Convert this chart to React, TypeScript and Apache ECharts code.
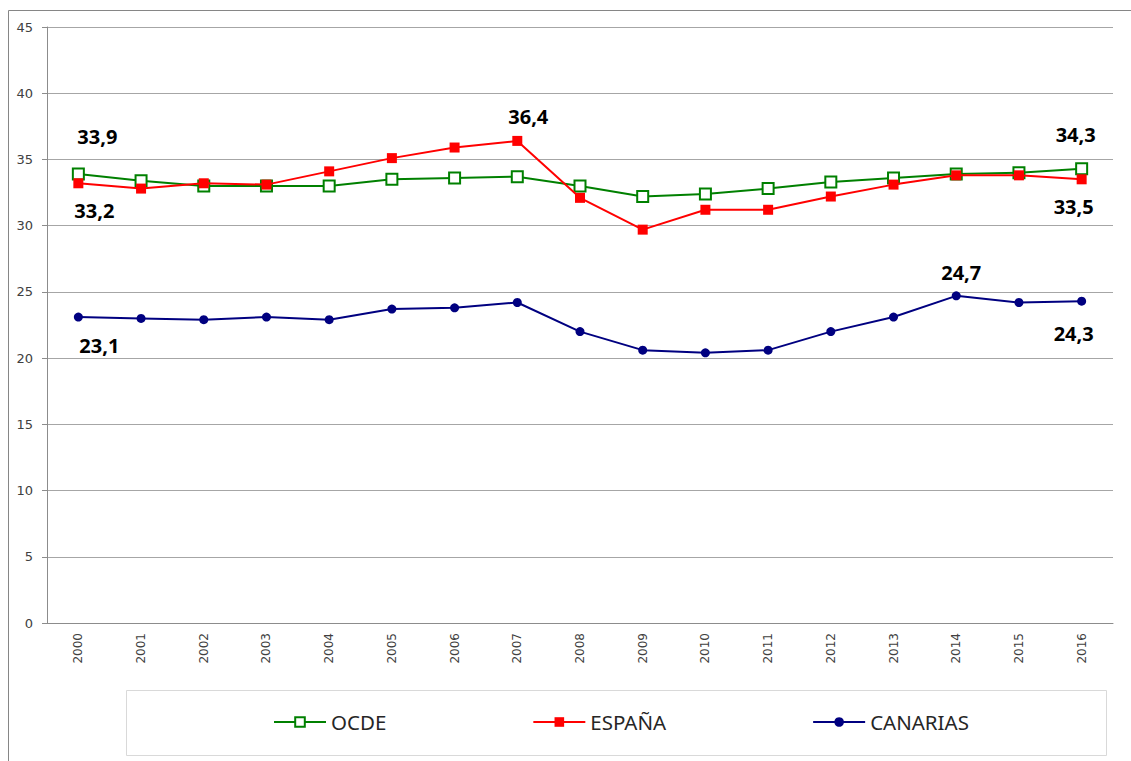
import React, { useEffect, useRef } from "react";
import * as echarts from "echarts";

const years = ["2000","2001","2002","2003","2004","2005","2006","2007","2008","2009","2010","2011","2012","2013","2014","2015","2016"];
const ocde = [33.9, 33.4, 33.0, 33.0, 33.0, 33.5, 33.6, 33.7, 33.0, 32.2, 32.4, 32.8, 33.3, 33.6, 33.9, 34.0, 34.3];
const espana = [33.2, 32.8, 33.2, 33.1, 34.1, 35.1, 35.9, 36.4, 32.1, 29.7, 31.2, 31.2, 32.2, 33.1, 33.8, 33.8, 33.5];
const canarias = [23.1, 23.0, 22.9, 23.1, 22.9, 23.7, 23.8, 24.2, 22.0, 20.6, 20.4, 20.6, 22.0, 23.1, 24.7, 24.2, 24.3];
const yTicks = { min: 0, max: 45, interval: 5 };

// label placement (style) per series: index -> offset [dx, dy] from point
const ocdeLabels: Record<number, number[]> = { 0: [19, -38], 16: [-6, -34] };
const espanaLabels: Record<number, number[]> = { 0: [16, 27], 7: [11, -24], 16: [-8, 27] };
const canariasLabels: Record<number, number[]> = { 0: [21, 28], 14: [5, -23], 16: [-8, 32] };

const labelStyle = {
  show: true,
  position: "inside",
  fontFamily: "Open Sans",
  fontWeight: "bold",
  fontSize: 20,
  color: "#000",
  formatter: (p: any) => String(p.value).replace(".", ","),
};

function buildData(values: number[], labels: Record<number, number[]>) {
  return values.map((v, i) =>
    labels[i] ? { value: v, label: { ...labelStyle, offset: labels[i] } } : { value: v }
  );
}

export default function App() {
  const ref = useRef<HTMLDivElement>(null);
  useEffect(() => {
    if (!ref.current) return;
    const chart = echarts.init(ref.current, null, { renderer: "svg" });
    const axisFont = { fontFamily: "DejaVu Sans", fontSize: 12, color: "#404040" };
    chart.setOption({
      animation: false,
      backgroundColor: "#fff",
      grid: { left: 47, right: 18, top: 27, bottom: 138, containLabel: false },
      xAxis: {
        type: "category",
        data: years,
        boundaryGap: true,
        axisLine: { lineStyle: { color: "#8c8c8c", width: 1 } },
        axisTick: { alignWithLabel: true, length: 5, lineStyle: { color: "#8c8c8c" } },
        axisLabel: { ...axisFont, rotate: 90, margin: 10, interval: 0 },
        splitLine: { show: false },
      },
      yAxis: {
        type: "value",
        min: yTicks.min,
        max: yTicks.max,
        interval: yTicks.interval,
        axisLine: { show: true, lineStyle: { color: "#8c8c8c", width: 1 } },
        axisTick: { show: true, length: 5, lineStyle: { color: "#8c8c8c" } },
        axisLabel: { ...axisFont, fontSize: 13, margin: 14 },
        splitLine: { show: true, lineStyle: { color: "#a6a6a6", width: 1 } },
      },
      legend: {
        left: 273,
        top: 709,
        itemWidth: 52,
        itemHeight: 12,
        itemGap: 146,
        padding: 0,
        textStyle: { fontFamily: "Noto Sans", fontSize: 20.5, color: "#262626", lineHeight: 26 },
        data: ["OCDE", "ESPAÑA", "CANARIAS"],
      },
      graphic: [
        { type: "line", shape: { x1: 8.5, y1: 10.5, x2: 1131, y2: 10.5 }, style: { stroke: "#868686", lineWidth: 1 }, silent: true },
        { type: "line", shape: { x1: 8.5, y1: 10.5, x2: 8.5, y2: 761 }, style: { stroke: "#868686", lineWidth: 1 }, silent: true },
        { type: "rect", shape: { x: 126.5, y: 690.5, width: 980, height: 65 }, style: { fill: "none", stroke: "#d9d9d9", lineWidth: 1 }, silent: true, z: -1 },
      ],
      series: [
        {
          name: "OCDE",
          type: "line",
          data: buildData(ocde, ocdeLabels),
          symbol: "rect",
          symbolSize: 11,
          lineStyle: { color: "#008000", width: 2 },
          itemStyle: { color: "#ffffff", borderColor: "#008000", borderWidth: 2 },
          label: { show: false },
          z: 2,
        },
        {
          name: "ESPAÑA",
          type: "line",
          data: buildData(espana, espanaLabels),
          symbol: "rect",
          symbolSize: 10,
          lineStyle: { color: "#ff0000", width: 2 },
          itemStyle: { color: "#ff0000" },
          label: { show: false },
          z: 3,
        },
        {
          name: "CANARIAS",
          type: "line",
          data: buildData(canarias, canariasLabels),
          symbol: "circle",
          symbolSize: 9,
          lineStyle: { color: "#000080", width: 2 },
          itemStyle: { color: "#000080" },
          label: { show: false },
          z: 4,
        },
      ],
    });
    return () => chart.dispose();
  }, []);
  return <div ref={ref} style={{ position: "absolute", left: 0, top: 0, width: 1131, height: 761 }} />;
}
